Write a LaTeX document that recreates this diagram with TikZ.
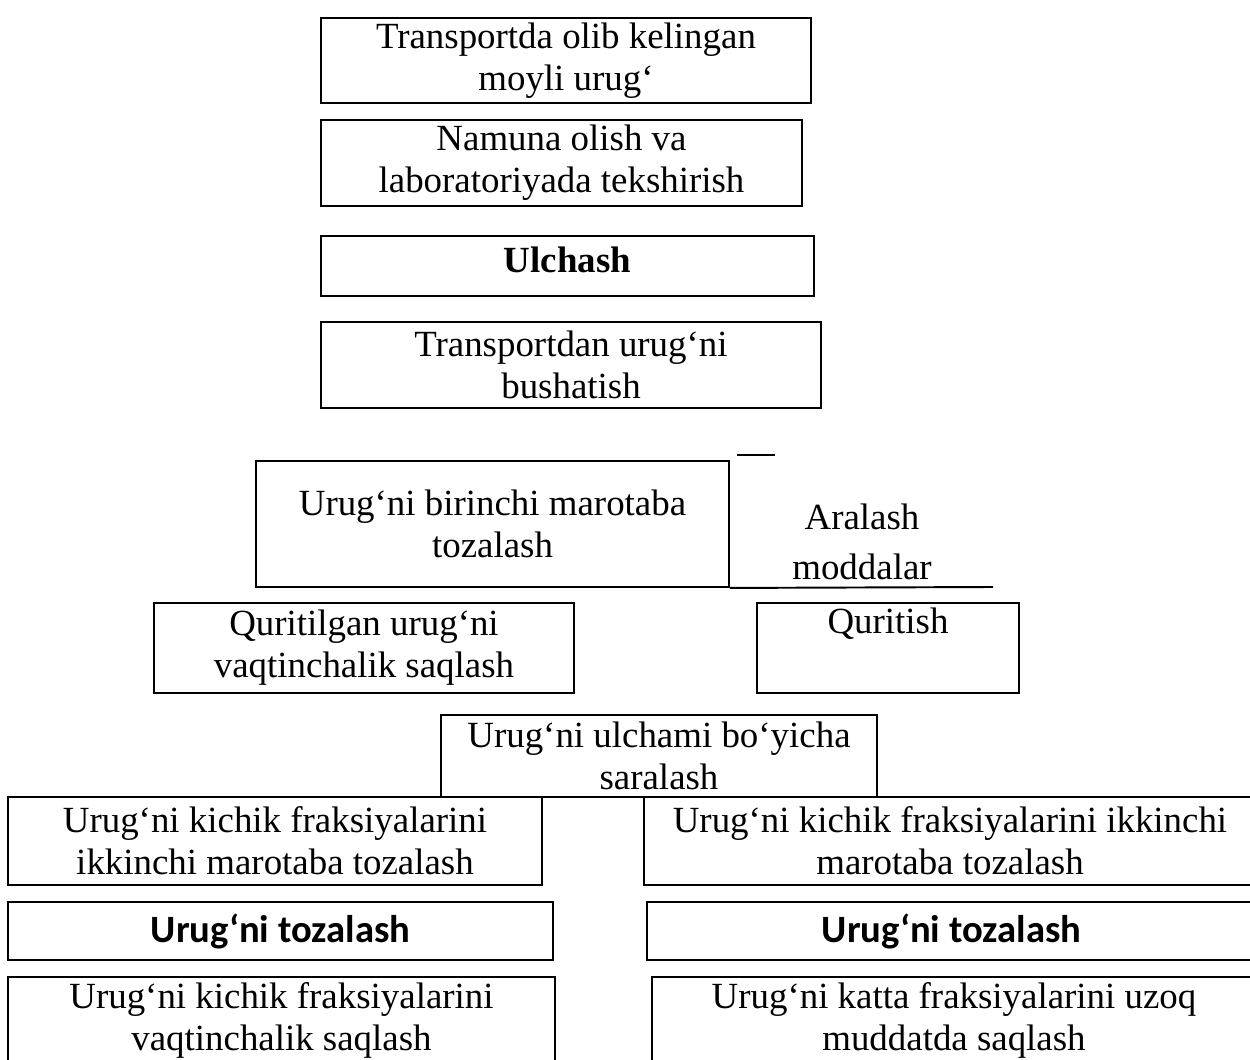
\documentclass[tikz,border=0pt]{standalone}
\usepackage{fontspec}
\setmainfont{Liberation Serif}
\newfontfamily\calibri{Carlito}
\usepackage{tikz}

\tikzset{
  box/.style={draw=black, line width=1.1pt, inner sep=0pt, align=center,
    font=\fontsize{21}{24}\selectfont},
  boldbox/.style={box, font=\calibri\bfseries\fontsize{22}{26}\selectfont}
}

\begin{document}
\begin{tikzpicture}[x=0.02cm, y=-0.02cm]
\useasboundingbox (0,0) rectangle (1250,1060);
\node[box, minimum width=9.8cm, minimum height=1.7cm](A) at (566,60.5) {Transportda olib kelingan\\moyli urug‘};
\node[box, minimum width=9.62cm, minimum height=1.72cm](B) at (561.5,163) {Namuna olish va\\laboratoriyada tekshirish};
\node[box, minimum width=9.86cm, minimum height=1.2cm, text depth=7pt](C) at (567.5,266) {\textbf{Ulchash}};
\node[box, minimum width=10cm, minimum height=1.72cm](D) at (571,365) {Transportdan urug‘ni\\bushatish};
\node[box, minimum width=9.46cm, minimum height=2.52cm](E) at (492.5,524) {Urug‘ni birinchi marotaba\\tozalash};
\node[align=center, font=\fontsize{21}{28.5}\selectfont](F) at (862,542) {Aralash\\moddalar};
\node[box, minimum width=8.4cm, minimum height=1.8cm](G) at (364,648) {Quritilgan urug‘ni\\vaqtinchalik saqlash};
\node[box, minimum width=5.24cm, minimum height=1.8cm](H) at (888,648) {Quritish\\\strut};
\node[box, minimum width=8.72cm, minimum height=1.64cm](I) at (659,756) {Urug‘ni ulchami bo‘yicha\\saralash};
\node[box, minimum width=10.68cm, minimum height=1.76cm](J) at (275,841) {Urug‘ni kichik fraksiyalarini\\ikkinchi marotaba tozalash};
\node[box, minimum width=12.24cm, minimum height=1.76cm](K) at (950,841) {Urug‘ni kichik fraksiyalarini ikkinchi\\marotaba tozalash};
\node[boldbox, minimum width=10.9cm, minimum height=1.16cm](L) at (280.5,931) {Urug‘ni tozalash};
\node[boldbox, minimum width=12.18cm, minimum height=1.16cm](M) at (951.5,931) {Urug‘ni tozalash};
\node[box, minimum width=10.94cm, minimum height=1.74cm](N) at (281.5,1020.5) {Urug‘ni kichik fraksiyalarini\\vaqtinchalik saqlash};
\node[box, minimum width=12.08cm, minimum height=1.74cm](O) at (954,1020.5) {Urug‘ni katta fraksiyalarini uzoq\\muddatda saqlash};
% open sides of the Aralash moddalar part
\coordinate (P) at (993,587);
\coordinate (Q1) at (737,455);
\coordinate (Q2) at (775,455);
\draw[line width=1.1pt] (E.south east) -- (P);
\draw[line width=1.1pt] (Q1) -- (Q2);
\end{tikzpicture}
\end{document}
